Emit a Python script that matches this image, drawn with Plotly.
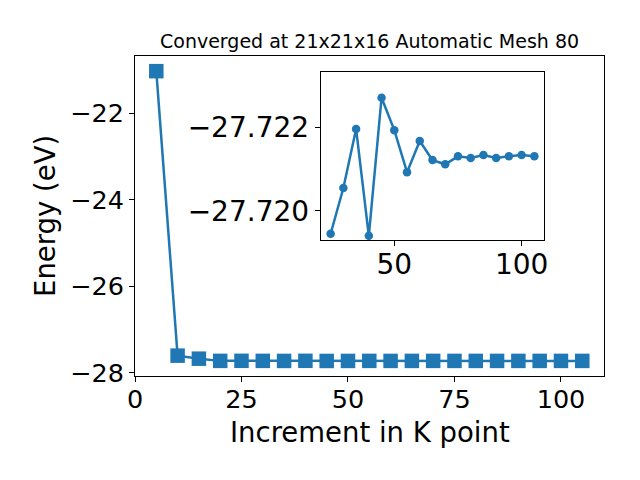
import plotly.graph_objects as go

kpoints = [5, 10, 15, 20, 25, 30, 35, 40, 45, 50, 55, 60, 65, 70, 75, 80, 85, 90, 95, 100, 105]
energy = [-21.03, -27.60, -27.67, -27.7205,
          -27.71945, -27.72055, -27.72197, -27.71940, -27.72272, -27.72194, -27.72093,
          -27.72168, -27.72122, -27.72112, -27.72131, -27.72127, -27.72134, -27.72127,
          -27.72131, -27.72134, -27.72131]
inset_start = 4

main_yticks = [-28, -26, -24, -22]
main_xticks = [0, 25, 50, 75, 100]
inset_yticks = [-27.722, -27.720]
inset_xticks = [50, 100]

title_text = "Converged at 21x21x16 Automatic Mesh 80"
xlabel = "Increment in K point"
ylabel = "Energy (eV)"

color = "#1f77b4"
font = "DejaVu Sans"

# page offset (browser body margin)
OFF = 8
# plot area in window pixels
L, R, T, B = 135, 604, 56, 376

fig = go.Figure()
fig.add_trace(go.Scatter(x=kpoints, y=energy, mode="lines+markers",
                         line=dict(color=color, width=2.5),
                         marker=dict(symbol="square", size=14.5, color=color),
                         xaxis="x", yaxis="y", showlegend=False))
fig.add_trace(go.Scatter(x=kpoints[inset_start:], y=energy[inset_start:], mode="lines+markers",
                         line=dict(color=color, width=2.5),
                         marker=dict(symbol="circle", size=8.5, color=color),
                         xaxis="x2", yaxis="y2", showlegend=False))


def ax(size):
    return dict(showline=True, mirror=True, linecolor="black", linewidth=1,
                ticks="outside", ticklen=5, tickcolor="black", showgrid=False,
                zeroline=False, automargin=False,
                tickfont=dict(family=font, size=size, color="black"))


pw, ph = R - L, B - T

fig.update_layout(
    width=640, height=480,
    margin=dict(l=L - OFF, r=640 - (R - OFF), t=T - OFF, b=480 - (B - OFF)),
    paper_bgcolor="white", plot_bgcolor="white",
    font=dict(family=font, color="black"),
    xaxis=dict(range=[0, 110.1], tickvals=main_xticks, ticklabelstandoff=-5,
               ticktext=[str(v) for v in main_xticks], **ax(25.5)),
    yaxis=dict(range=[-28.07, -20.68], tickvals=main_yticks,
               ticktext=["\u2212" + str(abs(v)) for v in main_yticks], **ax(25.5)),
    xaxis2=dict(domain=[(320.7 - L) / pw, (544.3 - L) / pw], anchor="y2", range=[21.1, 108.9],
                tickvals=inset_xticks, ticktext=[str(v) for v in inset_xticks],
                ticklabelstandoff=-6, **ax(28)),
    yaxis2=dict(domain=[(B - 240) / ph, (B - 72.3) / ph], anchor="x2", range=[-27.71930, -27.72333],
                tickvals=inset_yticks,
                ticktext=["\u2212" + f"{abs(v):.3f}" for v in inset_yticks],
                **ax(28)),
    annotations=[
        dict(text=title_text, x=(369.5 - L) / pw, y=(B - 41) / ph, xref="paper", yref="paper",
             xanchor="center", yanchor="middle", showarrow=False,
             font=dict(family=font, size=19, color="black")),
        dict(text=xlabel, x=0.5, y=(B - 432) / ph, xref="paper", yref="paper",
             xanchor="center", yanchor="middle", showarrow=False,
             font=dict(family=font, size=27.5, color="black")),
        dict(text=ylabel, x=(45 - L) / pw, y=0.5, xref="paper", yref="paper",
             xanchor="center", yanchor="middle", textangle=-90, showarrow=False,
             font=dict(family=font, size=27.5, color="black")),
    ],
)

fig.write_html("out.html")
